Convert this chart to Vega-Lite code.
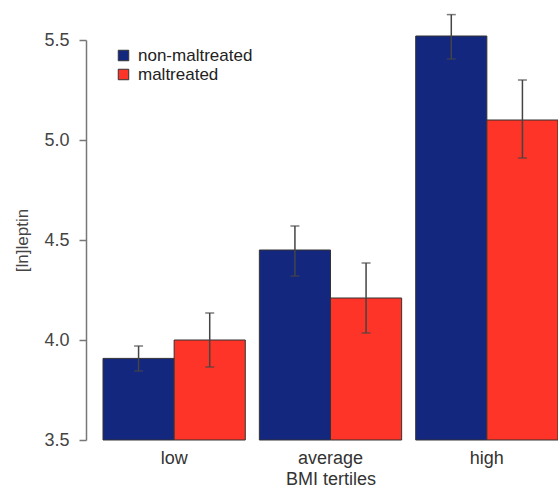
{
  "$schema": "https://vega.github.io/schema/vega-lite/v6.json",
  "width": 455,
  "height": 400,
  "autosize": {"type": "none"},
  "padding": {"left": 103, "top": 40, "right": 0, "bottom": 49},
  "background": "white",
  "config": {
    "view": {"stroke": null},
    "font": "Liberation Sans"
  },
  "data": {
    "values": [
      {"tertile": "low", "group": "non-maltreated", "mean": 3.908, "lo": 3.845, "hi": 3.97},
      {"tertile": "low", "group": "maltreated", "mean": 4.0, "lo": 3.865, "hi": 4.135},
      {"tertile": "average", "group": "non-maltreated", "mean": 4.45, "lo": 4.32, "hi": 4.57},
      {"tertile": "average", "group": "maltreated", "mean": 4.21, "lo": 4.035, "hi": 4.385},
      {"tertile": "high", "group": "non-maltreated", "mean": 5.52, "lo": 5.405, "hi": 5.627},
      {"tertile": "high", "group": "maltreated", "mean": 5.10, "lo": 4.91, "hi": 5.30}
    ]
  },
  "encoding": {
    "x": {
      "field": "tertile", "type": "nominal", "sort": ["low", "average", "high"],
      "scale": {"paddingInner": 0.09, "paddingOuter": 0},
      "axis": {
        "title": "BMI tertiles", "labelAngle": 0, "domain": false, "ticks": false,
        "labelFontSize": 18, "labelColor": "#333", "labelPadding": 9,
        "titleFontSize": 18, "titleFontWeight": "normal", "titleColor": "#333", "titlePadding": 3
      }
    },
    "xOffset": {"field": "group", "type": "nominal", "sort": ["non-maltreated", "maltreated"], "scale": {"paddingInner": 0, "paddingOuter": 0}}
  },
  "layer": [
    {
      "mark": {"type": "bar", "stroke": "#333333", "strokeWidth": 1},
      "encoding": {
        "y": {
          "field": "mean", "type": "quantitative",
          "scale": {"domain": [3.5, 5.5], "zero": false, "nice": false},
          "axis": {
            "title": "[ln]leptin", "values": [3.5, 4.0, 4.5, 5.0, 5.5], "format": ".1f",
            "grid": false, "offset": 17, "domainColor": "#777", "domainWidth": 1.5,
            "tickColor": "#777", "tickWidth": 1.5, "tickSize": 7,
            "labelFontSize": 18, "labelColor": "#444", "labelPadding": 10,
            "titleFontSize": 17, "titleFontWeight": "normal", "titleColor": "#444", "titlePadding": 12
          }
        },
        "y2": {"datum": 3.5},
        "color": {
          "field": "group", "type": "nominal", "sort": ["non-maltreated", "maltreated"],
          "scale": {"domain": ["non-maltreated", "maltreated"], "range": ["#14277f", "#fd3427"]},
          "legend": {
            "title": null, "orient": "none", "legendX": 12, "legendY": 7,
            "symbolType": "square", "symbolSize": 110, "symbolStrokeColor": "#333", "symbolStrokeWidth": 1,
            "labelFontSize": 17, "labelColor": "#222", "rowPadding": 1, "labelOffset": 6, "symbolOpacity": 1
          }
        }
      }
    },
    {
      "mark": {"type": "rule", "color": "#444", "strokeWidth": 1.5},
      "encoding": {
        "y": {"field": "lo", "type": "quantitative"},
        "y2": {"field": "hi"}
      }
    },
    {
      "mark": {"type": "tick", "color": "#444", "thickness": 1.5, "size": 9},
      "encoding": {"y": {"field": "lo", "type": "quantitative"}}
    },
    {
      "mark": {"type": "tick", "color": "#444", "thickness": 1.5, "size": 9},
      "encoding": {"y": {"field": "hi", "type": "quantitative"}}
    }
  ]
}
